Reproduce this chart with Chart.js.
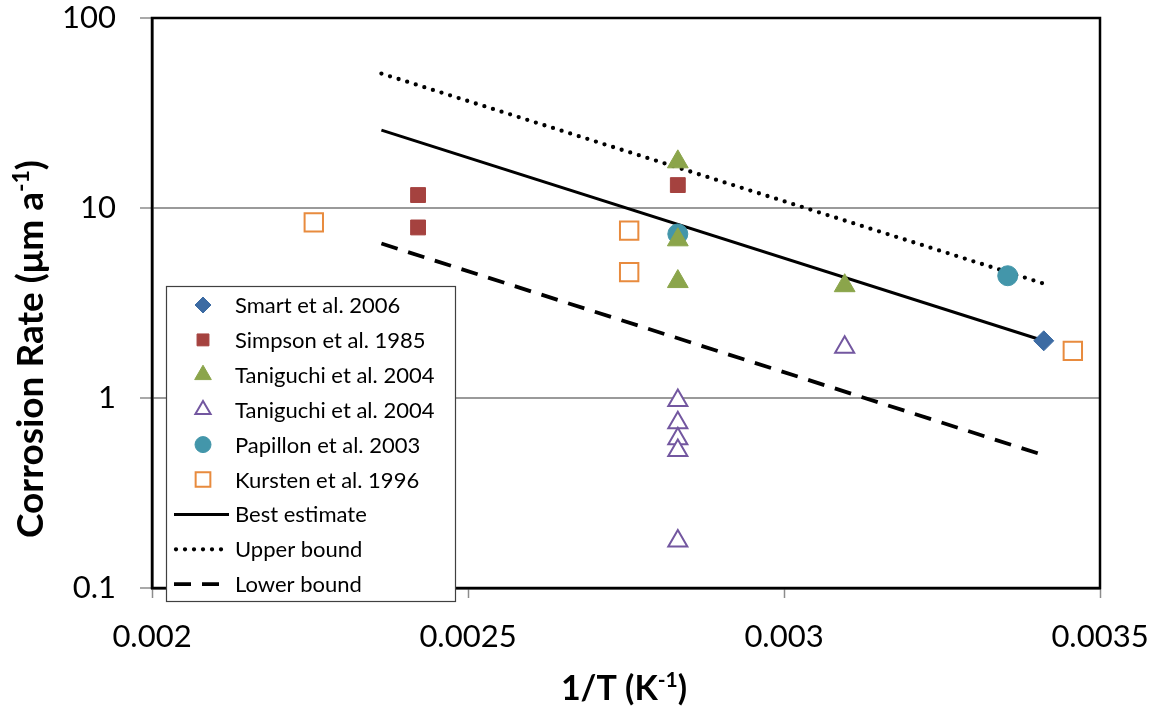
<!DOCTYPE html>
<html>
<head>
<meta charset="utf-8">
<script src="https://cdn.jsdelivr.net/npm/chart.js@4.4.0/dist/chart.umd.min.js"></script>
<style>
  html, body { margin: 0; padding: 0; background: #fff; }
</style>
</head>
<body>
<canvas id="myChart" width="1161" height="712"></canvas>
<script>
// data (x = 1/T in K^-1, y = corrosion rate in um/a)
const smartX = [0.003411];
const smartY = [2.0];
const simpsonX = [0.002421, 0.002421, 0.002832];
const simpsonY = [11.7, 7.9, 13.2];
const tanFilledX = [0.002832, 0.002832, 0.002832, 0.003096];
const tanFilledY = [17.5, 6.8, 4.1, 3.9];
const tanOpenX = [0.002832, 0.002832, 0.002832, 0.002832, 0.002832, 0.003096];
const tanOpenY = [0.97, 0.74, 0.61, 0.53, 0.177, 1.85];
const papillonX = [0.002832, 0.003354];
const papillonY = [7.3, 4.4];
const kurstenX = [0.002256, 0.002755, 0.002755, 0.003457];
const kurstenY = [8.4, 7.6, 4.6, 1.77];

const fitX = [0.002363, 0.003411];
const bestY = [25.7, 2.0];
const upperY = [51, 4.0];
const lowerY = [6.5, 0.5];

const xTicks = [0.002, 0.0025, 0.003, 0.0035];
const yTicks = [0.1, 1, 10, 100];

const seriesNames = [
  "Smart et al. 2006", "Simpson et al. 1985", "Taniguchi et al. 2004",
  "Taniguchi et al. 2004", "Papillon et al. 2003", "Kursten et al. 1996",
  "Best estimate", "Upper bound", "Lower bound"
];

const pts = (xs, ys) => xs.map((x, i) => ({ x: x, y: ys[i] }));

function marker(label, xs, ys, style, radius, fill, stroke, bw) {
  return {
    label: label,
    data: pts(xs, ys),
    pointStyle: style,
    pointRadius: radius,
    pointHoverRadius: radius,
    pointBackgroundColor: fill,
    pointBorderColor: stroke,
    pointBorderWidth: bw,
    showLine: false
  };
}

function fitLine(label, ys, dash, cap, width) {
  return {
    type: "line",
    label: label,
    data: pts(fitX, ys),
    borderColor: "#000",
    borderWidth: width,
    borderDash: dash,
    borderCapStyle: cap,
    pointRadius: 0,
    fill: false
  };
}

const datasets = [
  marker(seriesNames[0], smartX, smartY, "rectRot", 10, "#3C6BA3", "#3C6BA3", 1),
  marker(seriesNames[1], simpsonX, simpsonY, "rect", 10.5, "#A5423F", "#A5423F", 1),
  marker(seriesNames[2], tanFilledX, tanFilledY, "triangle", 12, "#8BA54B", "#8BA54B", 1),
  marker(seriesNames[3], tanOpenX, tanOpenY, "triangle", 11, "#fff", "#7357A0", 2),
  marker(seriesNames[4], papillonX, papillonY, "circle", 10, "#4396AA", "#4396AA", 1),
  marker(seriesNames[5], kurstenX, kurstenY, "rect", 13, "#fff", "#E88B3E", 2),
  fitLine(seriesNames[6], bestY, [], "butt", 3),
  fitLine(seriesNames[7], upperY, [0, 9], "round", 4.3),
  fitLine(seriesNames[8], lowerY, [17, 11], "butt", 3.8)
];

// text with a superscript part
function supWidth(ctx, parts, size, font) {
  let w = 0;
  parts.forEach(p => {
    ctx.font = "bold " + (p[1] ? Math.round(size * 0.62) : size) + "px " + font;
    w += ctx.measureText(p[0]).width;
  });
  return w;
}
function drawSup(ctx, parts, cx, cy, size, font, rot) {
  ctx.save();
  ctx.translate(cx, cy);
  ctx.rotate(rot);
  ctx.fillStyle = "#000";
  ctx.textBaseline = "alphabetic";
  ctx.textAlign = "left";
  let x = -supWidth(ctx, parts, size, font) / 2;
  const base = size * 0.36;
  parts.forEach(p => {
    const s = p[1] ? Math.round(size * 0.62) : size;
    ctx.font = "bold " + s + "px " + font;
    ctx.fillText(p[0], x, p[1] ? base - size * 0.38 : base);
    x += ctx.measureText(p[0]).width;
  });
  ctx.restore();
}

const extras = {
  id: "extras",
  afterDraw(chart) {
    const ctx = chart.ctx;
    const a = chart.chartArea;
    ctx.save();
    ctx.strokeStyle = "#000";
    ctx.lineWidth = 2.5;
    ctx.strokeRect(a.left, a.top, a.right - a.left, a.bottom - a.top);
    ctx.restore();

    // axis titles
    drawSup(ctx, [["Corrosion Rate (\u03bcm a", false], ["-1", true], [")", false]],
      30, 349, 37, "Lato", -Math.PI / 2);
    drawSup(ctx, [["1/T (K", false], ["-1", true], [")", false]],
      624, 688, 34, "Lato", 0);

    // legend box inside the plot
    const lx = 166, ly = 286, lw = 289, lh = 315;
    ctx.save();
    ctx.fillStyle = "#fff";
    ctx.fillRect(lx, ly, lw, lh);
    ctx.strokeStyle = "#404040";
    ctx.lineWidth = 1.2;
    ctx.strokeRect(lx + 0.5, ly + 0.5, lw, lh);
    ctx.font = "22px Lato";
    ctx.textBaseline = "middle";
    ctx.fillStyle = "#000";
    chart.data.datasets.forEach((ds, i) => {
      const y = 305 + i * 34.9;
      if (ds.type === "line") {
        ctx.save();
        ctx.strokeStyle = "#000";
        ctx.lineWidth = ds.borderWidth;
        ctx.setLineDash(ds.borderDash);
        ctx.lineCap = ds.borderCapStyle;
        ctx.beginPath();
        ctx.moveTo(i === 7 ? 176 : 174, y);
        ctx.lineTo(229, y);
        ctx.stroke();
        ctx.restore();
      } else {
        ctx.save();
        ctx.fillStyle = ds.pointBackgroundColor;
        ctx.strokeStyle = ds.pointBorderColor;
        ctx.lineWidth = ds.pointBorderWidth;
        Chart.helpers.drawPoint(ctx, {
          pointStyle: ds.pointStyle,
          radius: ds.pointRadius * 0.8,
          rotation: 0,
          borderWidth: ds.pointBorderWidth
        }, 203, y);
        ctx.restore();
      }
      ctx.fillText(ds.label, 235, y + 1);
    });
    ctx.restore();
  }
};

new Chart(document.getElementById("myChart"), {
  type: "scatter",
  data: { datasets: datasets },
  options: {
    responsive: false,
    animation: false,
    layout: { padding: { left: 0, top: 18, right: 61, bottom: 0 } },
    plugins: {
      legend: { display: false },
      tooltip: { enabled: false }
    },
    scales: {
      x: {
        type: "linear",
        min: 0.002,
        max: 0.0035,
        afterBuildTicks: s => { s.ticks = xTicks.map(v => ({ value: v })); },
        afterFit: s => { s.height = 124; s.paddingLeft = 0; s.paddingRight = 0; },
        ticks: {
          color: "#000",
          font: { family: "Lato", size: 31 },
          padding: 20,
          maxRotation: 0,
          callback: v => String(+v.toFixed(4))
        },
        grid: { drawOnChartArea: false, tickLength: 10, tickColor: "#8c8c8c", tickWidth: 1.5 },
        border: { color: "#000", width: 2.5 }
      },
      y: {
        type: "logarithmic",
        min: 0.1,
        max: 100,
        afterBuildTicks: s => { s.ticks = yTicks.map(v => ({ value: v })); },
        afterFit: s => { s.width = 152; s.paddingTop = 0; s.paddingBottom = 0; },
        ticks: {
          color: "#000",
          font: { family: "Lato", size: 31 },
          padding: 24,
          callback: v => String(v)
        },
        grid: { color: "#9a9a9a", lineWidth: 2, tickLength: 12, tickColor: "#8c8c8c", tickWidth: 1.5 },
        border: { color: "#000", width: 2.5 }
      }
    }
  },
  plugins: [extras]
});
</script>
</body>
</html>
